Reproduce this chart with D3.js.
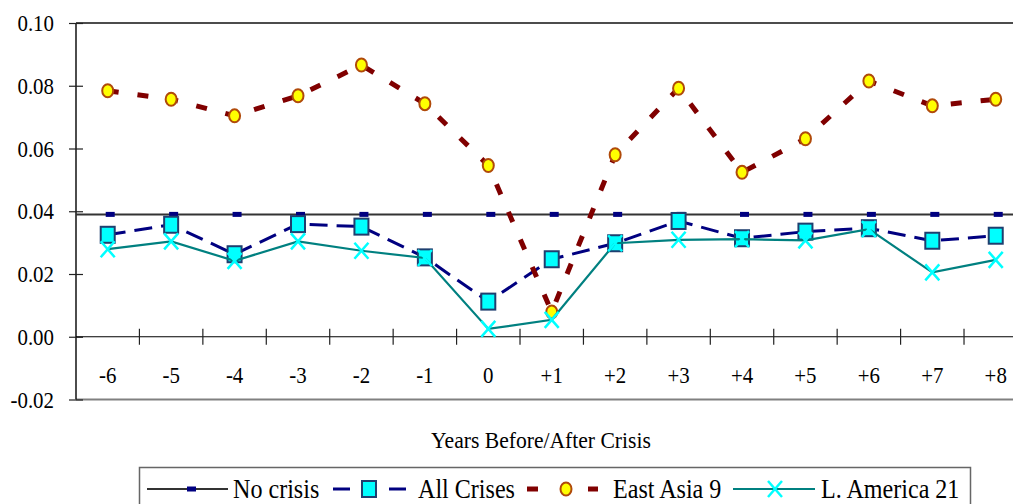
<!DOCTYPE html>
<html>
<head>
<meta charset="utf-8">
<script src="https://cdn.jsdelivr.net/npm/d3@7"></script>
<style>
  html, body { margin: 0; padding: 0; background: #fff; }
  svg { display: block; }
  svg text { font-family: "Liberation Serif", "Times New Roman", serif; fill: #000; }
</style>
</head>
<body>
<svg id="chart" width="1013" height="504"></svg>
<script>
const categories = ["-6","-5","-4","-3","-2","-1","0","+1","+2","+3","+4","+5","+6","+7","+8"];
const noCrisis  = [0.039,0.039,0.039,0.039,0.039,0.039,0.039,0.039,0.039,0.039,0.039,0.039,0.039,0.039,0.039];
const allCrises = [0.0325,0.0357,0.0263,0.0359,0.0351,0.0253,0.0112,0.0247,0.0298,0.0369,0.0314,0.0335,0.0346,0.0306,0.0322];
const eastAsia  = [0.0784,0.0757,0.0704,0.0768,0.0866,0.0743,0.0546,0.0079,0.0580,0.0792,0.0524,0.0631,0.0815,0.0736,0.0757];
const latAm     = [0.0279,0.0304,0.0242,0.0304,0.0274,0.0251,0.0025,0.0054,0.0298,0.0309,0.0311,0.0307,0.0343,0.0205,0.0245];
const yTicks = [-0.02,0.00,0.02,0.04,0.06,0.08,0.10];
const yTickLabels = ["-0.02","0.00","0.02","0.04","0.06","0.08","0.10"];
const seriesNames = ["No crisis","All Crises","East Asia 9","L. America 21"];
const xTitle = "Years Before/After Crisis";

const SX = 0.87; // horizontal text condensation seen in the reference
const svg = d3.select("#chart");
const W = 1013;

const left = 76, step = 63.43;
const x = d3.scaleBand().domain(categories).range([left, left + step * categories.length]).padding(0);
const y = d3.scaleLinear().domain([-0.02, 0.10]).range([399.5, 23]);
const cx = c => x(c) + x.bandwidth() / 2;

function txt(g, s, px, py, size, anchor, sx) {
  const t = g.append("text")
    .attr("x", px).attr("y", py)
    .attr("text-anchor", anchor)
    .attr("font-size", size)
    .text(s);
  const w = t.node().getComputedTextLength();
  t.attr("textLength", w * (sx || SX)).attr("lengthAdjust", "spacingAndGlyphs");
  return t;
}

// plot frame: top (black) and bottom (gray)
svg.append("line").attr("x1", left).attr("x2", W).attr("y1", y(0.10)).attr("y2", y(0.10))
  .attr("stroke", "#111").attr("stroke-width", 1.6);
svg.append("line").attr("x1", left).attr("x2", W).attr("y1", y(-0.02)).attr("y2", y(-0.02))
  .attr("stroke", "#808080").attr("stroke-width", 2);

// y axis
const yAxis = d3.axisLeft(y).tickValues(yTicks).tickSize(7).tickFormat(() => "");
const yg = svg.append("g").attr("transform", `translate(${left},0)`).call(yAxis);
yg.select(".domain").attr("stroke", "#000").attr("stroke-width", 1.4).attr("d", `M0,${y(0.10)}V${y(-0.02)}`);
yg.selectAll(".tick line").attr("x1", 7).attr("x2", -7).attr("stroke", "#222").attr("stroke-width", 1.2);
yTicks.forEach((v, i) => txt(svg, yTickLabels[i], 54, y(v) + 8, 24, "end"));

// x axis at zero
const xg = svg.append("g").attr("transform", `translate(0,${y(0)})`)
  .call(d3.axisBottom(x).tickSize(0).tickFormat(() => ""));
xg.select(".domain").attr("stroke", "#000").attr("stroke-width", 1.2).attr("d", `M${left},0H${W}`);
categories.slice(1).forEach(c => {
  svg.append("line").attr("x1", x(c)).attr("x2", x(c)).attr("y1", y(0) - 8).attr("y2", y(0) + 8)
    .attr("stroke", "#222").attr("stroke-width", 1.2);
});
categories.forEach(c => txt(svg, c, cx(c), 383, 24, "middle"));

// x title
txt(svg, xTitle, 541, 448, 24, "middle", 0.9);

// line generator
const lineGen = arr => d3.line().x((d, i) => cx(categories[i])).y(d => y(d))(arr);

// No crisis: full-width reference line with small markers
svg.append("line").attr("x1", left).attr("x2", W).attr("y1", y(noCrisis[0])).attr("y2", y(noCrisis[0]))
  .attr("stroke", "#333").attr("stroke-width", 2);
svg.append("g").selectAll("rect").data(noCrisis).join("rect")
  .attr("x", (d, i) => cx(categories[i]) - 2).attr("y", d => y(d) - 2.5)
  .attr("width", 9).attr("height", 5).attr("fill", "#000080");

// All Crises
svg.append("path").attr("d", lineGen(allCrises)).attr("fill", "none")
  .attr("stroke", "#000080").attr("stroke-width", 3).attr("stroke-dasharray", "18,9");
function squareMarker(g, px, py) {
  g.append("rect").attr("x", px - 7).attr("y", py - 8).attr("width", 14).attr("height", 16)
    .attr("fill", "#00FFFF").attr("stroke", "#1F3F6F").attr("stroke-width", 2);
}
allCrises.forEach((d, i) => squareMarker(svg, cx(categories[i]), y(d)));

// East Asia 9
svg.append("path").attr("d", lineGen(eastAsia)).attr("fill", "none")
  .attr("stroke", "#800000").attr("stroke-width", 5).attr("stroke-dasharray", "11,19");
function circleMarker(g, px, py) {
  g.append("ellipse").attr("cx", px).attr("cy", py).attr("rx", 5.5).attr("ry", 6.5)
    .attr("fill", "#FFFF00").attr("stroke", "#B04A0A").attr("stroke-width", 2);
}
eastAsia.forEach((d, i) => circleMarker(svg, cx(categories[i]), y(d)));

// L. America 21
svg.append("path").attr("d", lineGen(latAm)).attr("fill", "none")
  .attr("stroke", "#008080").attr("stroke-width", 2.2);
function xMarker(g, px, py) {
  g.append("path").attr("d", `M${px-7},${py-8}L${px+7},${py+8}M${px-7},${py+8}L${px+7},${py-8}`)
    .attr("stroke", "#00FFFF").attr("stroke-width", 2.5).attr("fill", "none");
}
latAm.forEach((d, i) => xMarker(svg, cx(categories[i]), y(d)));

// legend
const lg = svg.append("g");
lg.append("path").attr("d", "M139.5,504V467.5H970.5V504").attr("fill", "none")
  .attr("stroke", "#666").attr("stroke-width", 1.5);
const ly = 489, lb = 498;
// No crisis
lg.append("line").attr("x1", 147).attr("x2", 228).attr("y1", ly).attr("y2", ly).attr("stroke", "#333").attr("stroke-width", 2);
lg.append("rect").attr("x", 187).attr("y", ly - 2.5).attr("width", 9).attr("height", 5).attr("fill", "#000080");
txt(lg, seriesNames[0], 233, lb, 28, "start", 0.86);
// All Crises
lg.append("line").attr("x1", 333).attr("x2", 350).attr("y1", ly).attr("y2", ly).attr("stroke", "#000080").attr("stroke-width", 3);
lg.append("line").attr("x1", 389).attr("x2", 406).attr("y1", ly).attr("y2", ly).attr("stroke", "#000080").attr("stroke-width", 3);
squareMarker(lg, 369, ly);
txt(lg, seriesNames[1], 418, lb, 28, "start", 0.86);
// East Asia 9
lg.append("line").attr("x1", 527).attr("x2", 538).attr("y1", ly).attr("y2", ly).attr("stroke", "#800000").attr("stroke-width", 5);
lg.append("line").attr("x1", 588).attr("x2", 598).attr("y1", ly).attr("y2", ly).attr("stroke", "#800000").attr("stroke-width", 5);
circleMarker(lg, 566, ly);
txt(lg, seriesNames[2], 613, lb, 28, "start", 0.86);
// L. America 21
lg.append("line").attr("x1", 733).attr("x2", 815).attr("y1", ly).attr("y2", ly).attr("stroke", "#008080").attr("stroke-width", 2.2);
xMarker(lg, 775, ly);
txt(lg, seriesNames[3], 821, lb, 28, "start", 0.86);
</script>
</body>
</html>
